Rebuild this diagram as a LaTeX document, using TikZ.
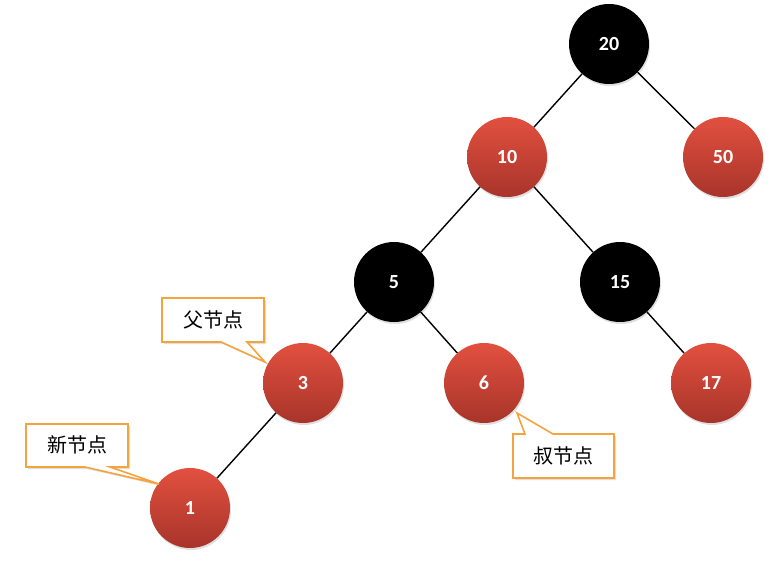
\documentclass[tikz,border=0pt]{standalone}
\usepackage{fontspec}
\setmainfont{Carlito}
\newfontfamily\cjk{Noto Sans CJK SC}
\usetikzlibrary{shadows}
\definecolor{redtop}{HTML}{E2503F}
\definecolor{redbot}{HTML}{A8342A}
\definecolor{calloutedge}{HTML}{F5A33F}
\tikzset{
  rbnode/.style={circle, minimum size=80pt, inner sep=0pt, text=white,
    font=\bfseries\fontsize{20}{22}\selectfont},
  rednode/.style={rbnode, top color=redtop, bottom color=redbot,
    drop shadow={opacity=0.25, shadow xshift=1pt, shadow yshift=-2pt}},
  blacknode/.style={rbnode, fill=black,
    drop shadow={opacity=0.25, shadow xshift=1pt, shadow yshift=-2pt}},
  edge/.style={line width=1.4pt, black},
  calloutshape/.style={draw=calloutedge, line width=1.6pt, fill=white, line join=miter,
    drop shadow={opacity=0.25, shadow xshift=2pt, shadow yshift=-2pt}},
  callouttext/.style={font=\cjk\fontsize{20}{24}\selectfont, text=black}
}
\begin{document}
\begin{tikzpicture}[x=1pt, y=-1pt]
  \useasboundingbox (0,0) rectangle (784,560);

  % tree nodes
  \node[blacknode] (n20) at (609,44)  {20};
  \node[rednode]   (n10) at (507,157) {10};
  \node[rednode]   (n50) at (723,157) {50};
  \node[blacknode] (n5)  at (394,282) {5};
  \node[blacknode] (n15) at (620,282) {15};
  \node[rednode]   (n3)  at (303,383) {3};
  \node[rednode]   (n6)  at (484,383) {6};
  \node[rednode]   (n17) at (711,383) {17};
  \node[rednode]   (n1)  at (190,508) {1};

  % parent-child links
  \draw[edge] (n20) -- (n10);
  \draw[edge] (n20) -- (n50);
  \draw[edge] (n10) -- (n5);
  \draw[edge] (n10) -- (n15);
  \draw[edge] (n5)  -- (n3);
  \draw[edge] (n5)  -- (n6);
  \draw[edge] (n15) -- (n17);
  \draw[edge] (n3)  -- (n1);

  % callout: parent
  \coordinate (tipParent) at (265,362);
  \draw[calloutshape] (162,298) -- (264,298) -- (264,342) -- (247,342)
    -- (tipParent) -- (221,342) -- (162,342) -- cycle;
  \node[callouttext] (lblParent) at (213,320) {父节点};

  % callout: new node
  \coordinate (tipNew) at (159,484);
  \draw[calloutshape] (26,424) -- (128,424) -- (128,467) -- (110,467)
    -- (tipNew) -- (85,467) -- (26,467) -- cycle;
  \node[callouttext] (lblNew) at (77,445) {新节点};

  % callout: uncle
  \coordinate (tipUncle) at (517,413);
  \draw[calloutshape] (513,434) -- (525,434) -- (tipUncle) -- (553,434)
    -- (614,434) -- (614,478) -- (513,478) -- cycle;
  \node[callouttext] (lblUncle) at (563,456) {叔节点};
\end{tikzpicture}
\end{document}
